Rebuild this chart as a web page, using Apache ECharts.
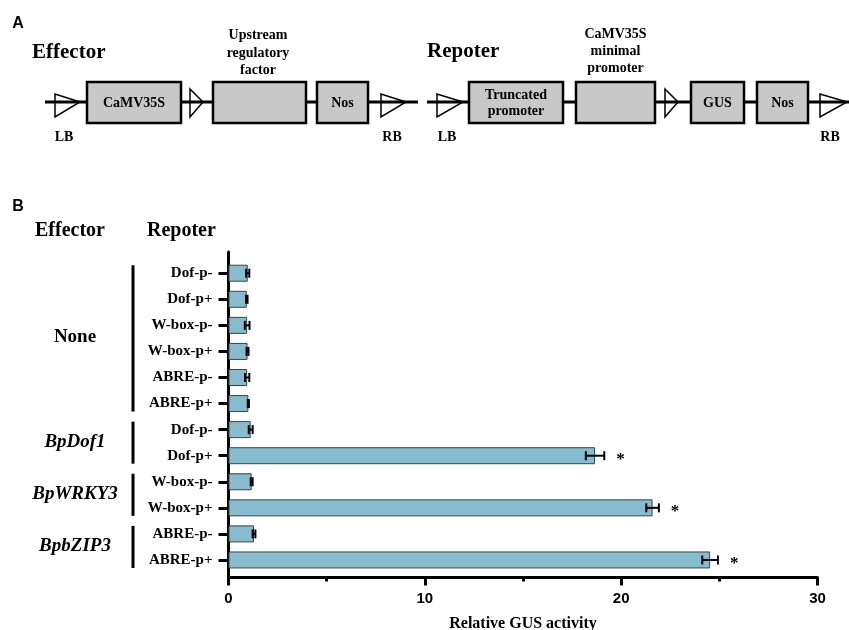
<!DOCTYPE html>
<html>
<head>
<meta charset="utf-8">
<script src="https://cdn.jsdelivr.net/npm/echarts@6/dist/echarts.min.js"></script>
<style>html,body{margin:0;padding:0;background:#fff}#c{width:849px;height:630px}</style>
</head>
<body>
<div id="c"></div>
<script>
// ---- data ----
var categories = ['Dof-p-','Dof-p+','W-box-p-','W-box-p+','ABRE-p-','ABRE-p+',
                  'Dof-p-','Dof-p+','W-box-p-','W-box-p+','ABRE-p-','ABRE-p+'];
var values = [0.98, 0.93, 0.95, 0.97, 0.95, 1.01, 1.13, 18.67, 1.18, 21.6, 1.3, 24.53];
var errors = [0.08, 0.04, 0.12, 0.05, 0.11, 0.03, 0.10, 0.47, 0.05, 0.32, 0.07, 0.40];
var signif = ['', '', '', '', '', '', '', '*', '', '*', '', '*'];
var groupNames = ['None', 'BpDof1', 'BpWRKY3', 'BpbZIP3'];
var groupStart = [0, 6, 8, 10];
var groupEnd = [5, 7, 9, 11];
var groupItalic = [false, true, true, true];
var xTicks = [0, 10, 20, 30];

var SERIF = '"Liberation Serif","Times New Roman",serif';
var SANS = '"Liberation Sans",Arial,sans-serif';

var chart = echarts.init(document.getElementById('c'), null, {renderer: 'canvas'});

var errData = values.map(function (v, i) { return [v, i, errors[i], i]; });
var grpData = groupNames.map(function (g, i) { return [0, groupStart[i], groupEnd[i], i]; });

// ---- panel A schematic ----
var G = [];
function txt(x, y, s, size, opts) {
  opts = opts || {};
  G.push({type: 'text', x: x, y: y, silent: true, style: {
    text: s, fill: '#000', align: opts.align || 'center', verticalAlign: 'middle',
    font: (opts.italic ? 'italic ' : '') + 'bold ' + size + 'px ' + (opts.font || SERIF),
    lineHeight: opts.lh || size
  }});
}
function line(x1, y1, x2, y2, w) {
  G.push({type: 'line', silent: true, shape: {x1: x1, y1: y1, x2: x2, y2: y2}, style: {stroke: '#000', lineWidth: w}});
}
function box(x1, x2) {
  G.push({type: 'rect', silent: true, shape: {x: x1, y: 82, width: x2 - x1, height: 41}, style: {fill: '#c8c8c8', stroke: '#000', lineWidth: 2.5}});
}
function tri(x1, x2, yt, yb) {
  G.push({type: 'polygon', silent: true, shape: {points: [[x1, yt], [x1, yb], [x2, 102]]}, style: {fill: 'none', stroke: '#000', lineWidth: 1.5}});
}
txt(18, 24, 'A', 16, {font: SANS});
txt(32, 53, 'Effector', 21, {align: 'left'});
line(45, 102, 418, 102, 3);
tri(55, 80, 94, 117);
box(87, 181);
txt(134, 103, 'CaMV35S', 14);
tri(190, 203, 89, 117);
box(213, 306);
txt(258, 53, 'Upstream\nregulatory\nfactor', 14, {lh: 17.5});
box(317, 368);
txt(342.5, 103, 'Nos', 14);
tri(381, 406, 94, 117);
txt(64, 137, 'LB', 14);
txt(392, 137, 'RB', 14);

txt(427, 52, 'Repoter', 21, {align: 'left'});
line(427, 102, 849, 102, 3);
tri(437, 463, 94, 117);
box(469, 563);
txt(516, 103, 'Truncated\npromoter', 14, {lh: 16});
box(576, 655);
txt(615.5, 51, 'CaMV35S\nminimal\npromoter', 14, {lh: 17});
tri(665, 678, 89, 117);
box(691, 744);
txt(717.5, 103, 'GUS', 14);
box(757, 808);
txt(782.5, 103, 'Nos', 14);
tri(820, 847, 94, 117);
txt(447, 137, 'LB', 14);
txt(830, 137, 'RB', 14);

// ---- panel B headers ----
txt(18, 207, 'B', 16, {font: SANS});
txt(35, 231, 'Effector', 20, {align: 'left'});
txt(147, 231, 'Repoter', 20, {align: 'left'});

var option = {
  animation: false,
  backgroundColor: '#fff',
  graphic: G,
  grid: [
    {left: 228.5, right: 31.5, top: 260.2, height: 312.8, containLabel: false, outerBoundsMode: 'none'},
    {left: 228.5, right: 31.5, top: 252, bottom: 52.5, containLabel: false, outerBoundsMode: 'none'}
  ],
  xAxis: [
    {gridIndex: 0, type: 'value', min: xTicks[0], max: xTicks[xTicks.length - 1], show: false},
    {gridIndex: 1, type: 'value', min: xTicks[0], max: xTicks[xTicks.length - 1], interval: 10,
      axisLine: {show: true, lineStyle: {color: '#000', width: 3}},
      axisTick: {show: true, length: 8, lineStyle: {color: '#000', width: 3}},
      minorTick: {show: true, splitNumber: 2, length: 4, lineStyle: {color: '#000', width: 3}},
      splitLine: {show: false},
      axisLabel: {margin: 14, color: '#000', fontFamily: SANS, fontWeight: 'bold', fontSize: 15},
      name: 'Relative GUS activity', nameLocation: 'middle', nameGap: 38,
      nameTextStyle: {color: '#000', fontFamily: SERIF, fontWeight: 'bold', fontSize: 16}
    }
  ],
  yAxis: [
    {gridIndex: 0, type: 'category', data: categories, inverse: true,
      axisLine: {show: false},
      axisTick: {show: true, alignWithLabel: true, length: 10, lineStyle: {color: '#000', width: 3}},
      axisLabel: {margin: 16, color: '#000', fontFamily: SERIF, fontWeight: 'bold', fontSize: 15}
    },
    {gridIndex: 1, type: 'value', min: 0, max: 1,
      axisLine: {show: true, lineStyle: {color: '#000', width: 3}},
      axisTick: {show: false}, axisLabel: {show: false}, splitLine: {show: false}
    }
  ],
  series: [
    {type: 'bar', xAxisIndex: 0, yAxisIndex: 0, data: values, barWidth: 17,
      itemStyle: {color: '#86bccd', borderColor: '#404040', borderWidth: 1}},
    {type: 'custom', xAxisIndex: 0, yAxisIndex: 0, data: errData, clip: false, z: 5,
      renderItem: function (params, api) {
        var v = api.value(0), i = api.value(1), e = api.value(2), k = api.value(3);
        var p0 = api.coord([v - e, i]), p1 = api.coord([v + e, i]);
        var h = 4.5;
        var st = {stroke: '#000', lineWidth: 2};
        var ch = [
          {type: 'line', shape: {x1: p0[0], y1: p0[1], x2: p1[0], y2: p1[1]}, style: st},
          {type: 'line', shape: {x1: p0[0], y1: p0[1] - h, x2: p0[0], y2: p0[1] + h}, style: st},
          {type: 'line', shape: {x1: p1[0], y1: p1[1] - h, x2: p1[0], y2: p1[1] + h}, style: st}
        ];
        if (signif[k]) {
          ch.push({type: 'text', x: p1[0] + 12, y: p1[1] + 4, style: {
            text: signif[k], fill: '#000', align: 'left', verticalAlign: 'middle',
            font: 'bold 17px ' + SERIF}});
        }
        return {type: 'group', children: ch};
      }
    },
    {type: 'custom', xAxisIndex: 0, yAxisIndex: 0, data: grpData, clip: false, z: 5,
      renderItem: function (params, api) {
        var s = api.value(1), e = api.value(2), k = api.value(3);
        var a = api.coord([0, s]), b = api.coord([0, e]);
        var y1 = a[1] - 8, y2 = b[1] + 8;
        return {type: 'group', children: [
          {type: 'line', shape: {x1: 133, y1: y1, x2: 133, y2: y2}, style: {stroke: '#000', lineWidth: 3}},
          {type: 'text', x: 75, y: (y1 + y2) / 2 - 1, style: {
            text: groupNames[k], fill: '#000', align: 'center', verticalAlign: 'middle',
            font: (groupItalic[k] ? 'italic ' : '') + 'bold 19px ' + SERIF}}
        ]};
      }
    }
  ]
};
chart.setOption(option);
</script>
</body>
</html>
